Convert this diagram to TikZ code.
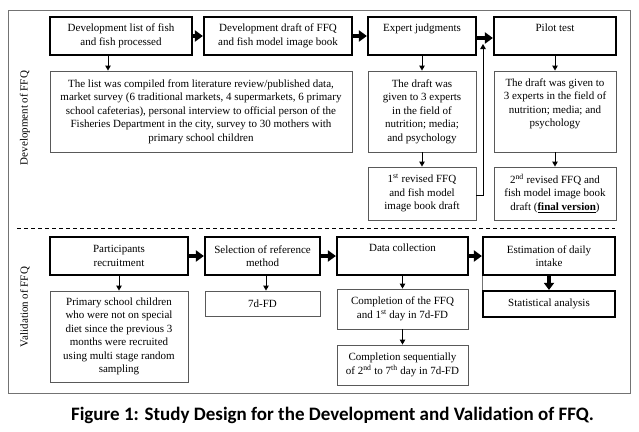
\documentclass[tikz,border=0pt]{standalone}
\usepackage{fontspec}
\setmainfont{Liberation Serif}
\newfontfamily\bodyfont{Liberation Serif}
\newfontfamily\capfont[Ligatures=NoCommon]{Carlito}
\usetikzlibrary{arrows.meta}
\begin{document}
\begin{tikzpicture}[x=1pt,y=-1pt,
  txt/.style={align=center,font=\bodyfont\fontsize{11}{13.5}\selectfont,inner sep=0pt},
  thickbox/.style={txt,draw=black,line width=2.2pt},
  thinbox/.style={txt,draw=black!65,line width=0.9pt},
  bigarrow/.style={line width=4pt,-{Triangle[width=11pt,length=8pt]}},
  smallarrow/.style={line width=0.9pt,-{Triangle[width=5.5pt,length=5pt]}},
  sidelabel/.style={rotate=90,font=\bodyfont\fontsize{11}{12}\selectfont,inner sep=0pt},
]
\useasboundingbox (0,0) rectangle (639,431);
% outer frame
\draw[black!55,line width=1pt] (8,10) rectangle (630,393);
% side labels
\node[sidelabel] (ldev) at (25,118) {Development of FFQ};
\node[sidelabel] (lval) at (25,307) {Validation of FFQ};
% top row
\node[thickbox,minimum width=142pt,minimum height=38pt] (d1) at (121,36) {Development list of fish\\and fish processed};
\node[thickbox,minimum width=148pt,minimum height=38pt] (d2) at (278,36) {Development draft of FFQ\\and fish model image book};
\node[thickbox,minimum width=108pt,minimum height=38pt] (d3) at (422,36) {Expert judgments\\\strut};
\node[thickbox,minimum width=122pt,minimum height=38pt] (d4) at (555,36) {Pilot test\\\strut};
% second row
\node[thinbox,minimum width=302pt,minimum height=81pt] (d1c) at (201,111.5) {The list was compiled from literature review/published data,\\market survey (6 traditional markets, 4 supermarkets, 6 primary\\school cafeterias), personal interview to official person of the\\Fisheries Department in the city, survey to 30 mothers with\\primary school children};
\node[thinbox,minimum width=108pt,minimum height=81pt] (d3c) at (422,111.5) {The draft was\\given to 3 experts\\in the field of\\nutrition; media;\\and psychology};
\node[thinbox,minimum width=122pt,minimum height=81pt] (d4c) at (555,111.5) {The draft was given to\\3 experts in the field of\\nutrition; media; and\\psychology\\\strut};
% third row
\node[thinbox,minimum width=108pt,minimum height=53pt] (d3r) at (422,193.5) {1\textsuperscript{st} revised FFQ\\and fish model\\image book draft};
\node[thinbox,minimum width=122pt,minimum height=53pt] (d4r) at (555,193.5) {2\textsuperscript{nd} revised FFQ and\\fish model image book\\draft (\underline{\textbf{final version}})};
\coordinate (fb) at (483,44);
% separator
\coordinate (sepL) at (17,228);
\coordinate (sepR) at (615,228);
\draw[line width=0.8pt,dash pattern=on 4pt off 3pt] (sepL) -- (sepR);
% validation row
\node[thickbox,minimum width=138pt,minimum height=38pt] (v1) at (119,256) {Participants\\recruitment};
\node[thickbox,minimum width=115pt,minimum height=38pt] (v2) at (262.5,256) {Selection of reference\\method};
\node[thickbox,minimum width=131pt,minimum height=38pt] (v3) at (402.5,256) {Data collection\\\strut};
\node[thickbox,minimum width=132pt,minimum height=38pt] (v4) at (549,256) {Estimation of daily\\intake};
\node[thinbox,minimum width=138pt,minimum height=91pt] (v1c) at (119,336.5) {Primary school children\\who were not on special\\diet since the previous 3\\months were recruited\\using multi stage random\\sampling};
\node[thinbox,minimum width=115pt,minimum height=25pt] (v2c) at (262.5,303.5) {7d-FD};
\node[thinbox,minimum width=131pt,minimum height=40pt] (v3c1) at (402.5,309) {Completion of the FFQ\\and 1\textsuperscript{st} day in 7d-FD};
\node[thinbox,minimum width=131pt,minimum height=40pt] (v3c2) at (402.5,365) {Completion sequentially\\of 2\textsuperscript{nd} to 7\textsuperscript{th} day in 7d-FD};
\node[thickbox,minimum width=132pt,minimum height=26pt] (stat) at (549,304) {Statistical analysis};
% arrows top
\draw[bigarrow] (d1.east) -- (d2.west);
\draw[bigarrow] (d2.east) -- (d3.west);
\draw[bigarrow] ([yshift=-2pt]d3.east) -- ([yshift=-2pt]d4.west);
\draw[smallarrow] ([xshift=-13pt]d1.south) -- ([xshift=-13pt]d1.south |- d1c.north);
\draw[smallarrow] (d3.south) -- (d3c.north);
\draw[smallarrow] (d4.south) -- (d4c.north);
\draw[smallarrow] (d3c.south) -- (d3r.north);
\draw[smallarrow] (d4c.south) -- (d4r.north);
\draw[smallarrow] ([yshift=-1.5pt]d3r.east) -- ([yshift=-1.5pt]d3r.east -| fb) -- (fb);
% arrows validation
\draw[bigarrow] (v1.east) -- (v2.west);
\draw[bigarrow] (v2.east) -- (v3.west);
\draw[bigarrow] (v3.east) -- (v4.west);
\draw[smallarrow] (v1.south) -- (v1c.north);
\draw[smallarrow] ([xshift=3.5pt]v2.south) -- ([xshift=3.5pt]v2.south |- v2c.north);
\draw[smallarrow] (v3.south) -- (v3c1.north);
\draw[smallarrow] (v3c1.south) -- (v3c2.north);
\draw[line width=3.5pt,-{Triangle[width=10pt,length=7pt]}] (v4.south) -- (stat.north);
\draw[black!55,line width=0.7pt] (v4.south west) -- (stat.north west);
% caption
\node[anchor=base,inner sep=0pt,font=\capfont\bfseries\fontsize{19}{21}\selectfont] (cap) at (332.5,420) {Figure 1: Study Design for the Development and Validation of FFQ.};
\end{tikzpicture}
\end{document}
